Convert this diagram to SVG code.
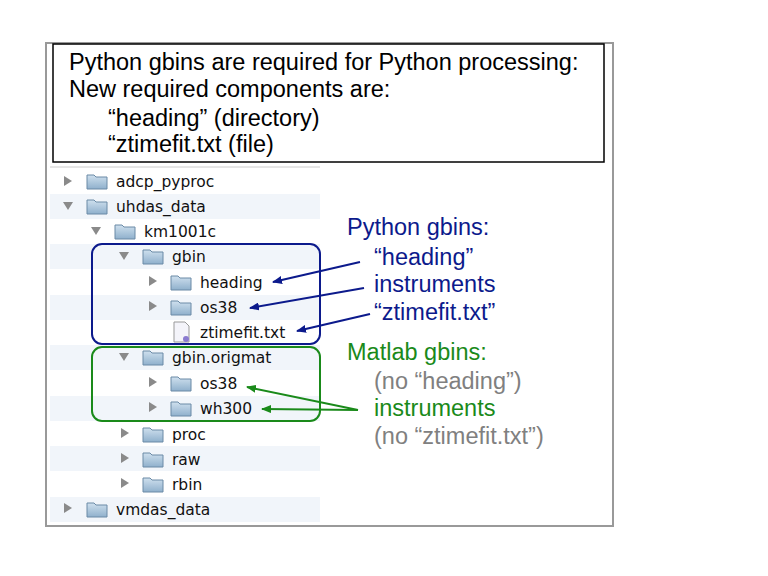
<svg xmlns="http://www.w3.org/2000/svg" width="768" height="576" viewBox="0 0 768 576">
<defs>
<style>
.t{font-family:"Liberation Sans",Arial,sans-serif;font-size:23.5px}
.f{font-family:"Lucida Grande","DejaVu Sans",sans-serif;font-size:15.5px;fill:#111}
.stripe{fill:#f1f5fa}
.tri{fill:#8a8a8a}
.nv{fill:#0c1a8c}.gr{fill:#1a8a1a}.gy{fill:#808080}
</style>
<linearGradient id="fg" x1="0" y1="0" x2="0" y2="1"><stop offset="0" stop-color="#cfe0ee"/><stop offset="1" stop-color="#8fb0cc"/></linearGradient>
<symbol id="fold" viewBox="0 0 22 18"><path d="M1 3h7l2 2h11v12H1z" fill="url(#fg)" stroke="#6a8aa6" stroke-width="1"/></symbol>
<marker id="ab" markerWidth="10" markerHeight="8" refX="9" refY="4" orient="auto" markerUnits="userSpaceOnUse"><path d="M0 0L10 4L0 8z" fill="#0c1a8c"/></marker>
<marker id="ag" markerWidth="10" markerHeight="8" refX="9" refY="4" orient="auto" markerUnits="userSpaceOnUse"><path d="M0 0L10 4L0 8z" fill="#1a8a1a"/></marker>
</defs>
<rect width="768" height="576" fill="#fff"/>
<rect x="46" y="43" width="567" height="483" fill="#fff" stroke="#999" stroke-width="2"/>
<g id="header">
<rect x="53" y="44" width="551" height="118" fill="#fff" stroke="#000" stroke-width="1.5"/>
<text class="t" x="69" y="70">Python gbins are required for Python processing:</text>
<text class="t" x="69" y="97">New required components are:</text>
<text class="t" x="108" y="126">“heading” (directory)</text>
<text class="t" x="108" y="152">“ztimefit.txt (file)</text>
</g>
<g id="tree">
<line x1="50" y1="167" x2="320" y2="167" stroke="#ccc"/>
<rect class="stripe" x="50" y="194" width="270" height="25"/>
<rect class="stripe" x="50" y="244" width="270" height="25"/>
<rect class="stripe" x="50" y="295" width="270" height="25"/>
<rect class="stripe" x="50" y="345" width="270" height="25"/>
<rect class="stripe" x="50" y="396" width="270" height="25"/>
<rect class="stripe" x="50" y="446" width="270" height="25"/>
<rect class="stripe" x="50" y="497" width="270" height="25"/>
<path class="tri" d="M64 176l8 5-8 5z"/><use href="#fold" x="86" y="172" width="22" height="18"/><text class="f" x="116" y="187">adcp_pyproc</text>
<path class="tri" d="M63 202h10l-5 8z"/><use href="#fold" x="86" y="197" width="22" height="18"/><text class="f" x="116" y="212">uhdas_data</text>
<path class="tri" d="M91 227h10l-5 8z"/><use href="#fold" x="114" y="222" width="22" height="18"/><text class="f" x="144" y="237">km1001c</text>
<path class="tri" d="M119 252h10l-5 8z"/><use href="#fold" x="142" y="247" width="22" height="18"/><text class="f" x="172" y="262">gbin</text>
<path class="tri" d="M149 276l8 5-8 5z"/><use href="#fold" x="170" y="273" width="22" height="18"/><text class="f" x="200" y="288">heading</text>
<path class="tri" d="M149 301l8 5-8 5z"/><use href="#fold" x="170" y="298" width="22" height="18"/><text class="f" x="200" y="313">os38</text>
<path d="M174 322h11l4 4v16h-15z" fill="#f4f4fa" stroke="#999"/><circle cx="186" cy="339" r="3" fill="#8a7ad0"/><text class="f" x="200" y="338">ztimefit.txt</text>
<path class="tri" d="M119 353h10l-5 8z"/><use href="#fold" x="142" y="348" width="22" height="18"/><text class="f" x="172" y="363">gbin.origmat</text>
<path class="tri" d="M149 377l8 5-8 5z"/><use href="#fold" x="170" y="374" width="22" height="18"/><text class="f" x="200" y="389">os38</text>
<path class="tri" d="M149 402l8 5-8 5z"/><use href="#fold" x="170" y="399" width="22" height="18"/><text class="f" x="200" y="414">wh300</text>
<path class="tri" d="M121 428l8 5-8 5z"/><use href="#fold" x="142" y="425" width="22" height="18"/><text class="f" x="172" y="440">proc</text>
<path class="tri" d="M121 453l8 5-8 5z"/><use href="#fold" x="142" y="450" width="22" height="18"/><text class="f" x="172" y="465">raw</text>
<path class="tri" d="M121 478l8 5-8 5z"/><use href="#fold" x="142" y="475" width="22" height="18"/><text class="f" x="172" y="490">rbin</text>
<path class="tri" d="M64 503l8 5-8 5z"/><use href="#fold" x="86" y="500" width="22" height="18"/><text class="f" x="116" y="515">vmdas_data</text>
</g>
<g id="python-box"><rect x="92" y="244" width="228" height="100" rx="10" fill="none" stroke="#0c1a8c" stroke-width="2"/></g>
<g id="matlab-box"><rect x="92" y="347" width="228" height="74" rx="10" fill="none" stroke="#1a8a1a" stroke-width="2"/></g>
<g id="python-label">
<text class="t nv" x="347" y="235">Python gbins:</text>
<text class="t nv" x="374" y="265">“heading”</text>
<text class="t nv" x="374" y="292">instruments</text>
<text class="t nv" x="374" y="320">“ztimefit.txt”</text>
</g>
<g id="matlab-label">
<text class="t gr" x="347" y="360">Matlab gbins:</text>
<text class="t gy" x="374" y="389">(no “heading”)</text>
<text class="t gr" x="374" y="416">instruments</text>
<text class="t gy" x="374" y="444">(no “ztimefit.txt”)</text>
</g>
<g id="connectors" stroke-width="2" fill="none">
<line x1="360" y1="262" x2="273" y2="282" stroke="#0c1a8c" marker-end="url(#ab)"/>
<line x1="364" y1="288" x2="250" y2="308" stroke="#0c1a8c" marker-end="url(#ab)"/>
<line x1="370" y1="314" x2="297" y2="331" stroke="#0c1a8c" marker-end="url(#ab)"/>
<line x1="358" y1="410" x2="247" y2="387" stroke="#1a8a1a" marker-end="url(#ag)"/>
<line x1="358" y1="410" x2="262" y2="409" stroke="#1a8a1a" marker-end="url(#ag)"/>
</g>
</svg>
